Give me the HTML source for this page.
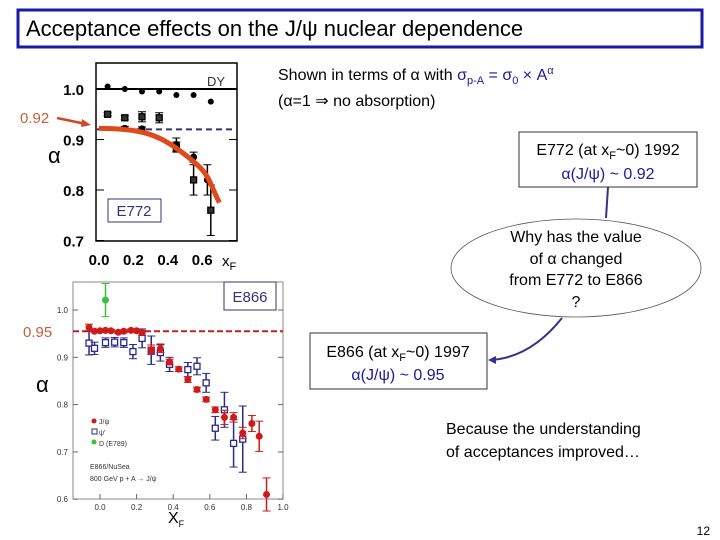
<!DOCTYPE html>
<html><head><meta charset="utf-8"><style>
body{margin:0;background:#fff;}
svg{display:block;font-family:"Liberation Sans",sans-serif;}
</style></head><body>
<svg id="s" width="720" height="540" xmlns="http://www.w3.org/2000/svg">
<rect x="18" y="10" width="684" height="37" fill="#fff" stroke="#1a1aa8" stroke-width="3"/>
<text x="26" y="36" font-size="22" fill="#000">Acceptance effects on the J/ψ nuclear dependence</text>

<text x="278" y="80" font-size="16">Shown in terms of α with <tspan fill="#1a1a9a">σ<tspan font-size="11" dy="4">p-A</tspan><tspan dy="-4"> = σ</tspan><tspan font-size="11" dy="4">0</tspan><tspan dy="-4"> × A</tspan><tspan font-size="11" dy="-6">α</tspan></tspan></text>
<text x="278" y="106" font-size="16">(α=1 ⇒ no absorption)</text>

<rect x="519" y="132" width="178" height="55" fill="#fff" stroke="#333"/>
<text x="608" y="155" font-size="16" text-anchor="middle">E772 (at x<tspan font-size="11" dy="4">F</tspan><tspan dy="-4">~0) 1992</tspan></text>
<text x="608" y="179" font-size="16" text-anchor="middle" fill="#1a1a9a">α(J/ψ) ~ 0.92</text>
<line x1="608" y1="187" x2="606" y2="218" stroke="#33338a" stroke-width="2"/>
<ellipse cx="576" cy="268" rx="125" ry="49" fill="#fff" stroke="#555" stroke-width="0.8"/>
<g font-size="16" text-anchor="middle">
<text x="576" y="242">Why has the value</text><text x="576" y="264">of α changed</text><text x="576" y="285">from E772 to E866</text><text x="576" y="307">?</text></g>
<path d="M562,318 Q530,358 490,360" fill="none" stroke="#33338a" stroke-width="2"/>
<path d="M488,360 l8,-4 l0,8 z" fill="#33338a"/>
<rect x="310" y="333" width="177" height="56" fill="#fff" stroke="#333"/>
<text x="398" y="357" font-size="16" text-anchor="middle">E866 (at x<tspan font-size="11" dy="4">F</tspan><tspan dy="-4">~0) 1997</tspan></text>
<text x="398" y="380" font-size="16" text-anchor="middle" fill="#1a1a9a">α(J/ψ) ~ 0.95</text>
<text x="446" y="434" font-size="16">Because the understanding</text>
<text x="446" y="457" font-size="16">of acceptances improved…</text>
<text x="710" y="535" font-size="12" text-anchor="end">12</text>
<g id="top"></g><g id="bot"></g>
</svg>
<script>
// Top chart data (E772)
const dyX=[0.05,0.15,0.25,0.35,0.45,0.55,0.65];
const dyY=[1.005,1.0,0.995,0.995,0.988,0.988,0.975];
const jpX=[0.05,0.15,0.25,0.35,0.45,0.55,0.65];
const jpY=[0.95,0.943,0.945,0.943,0.885,0.82,0.76];
const jpE=[0.003,0.004,0.01,0.01,0.01,0.03,0.05];
const j2X=[0.15,0.25,0.45,0.55,0.63];
const j2Y=[0.922,0.921,0.89,0.865,0.82];
const j2E=[0.004,0.004,0.013,0.01,0.03];
const topTicksY=[0.7,0.8,0.9,1.0];
const topTicksX=[0.0,0.2,0.4,0.6];
// Bottom chart data (E866)
const rX=[-0.06,-0.03,0.0,0.03,0.06,0.1,0.13,0.17,0.2,0.23,0.28,0.33,0.38,0.43,0.48,0.53,0.58,0.63,0.68,0.73,0.78,0.83,0.87,0.91];
const rY=[0.963,0.955,0.956,0.957,0.956,0.953,0.955,0.957,0.956,0.952,0.916,0.918,0.89,0.875,0.853,0.832,0.811,0.789,0.773,0.773,0.74,0.76,0.733,0.61];
const rE=[0.007,0.003,0.003,0.003,0.003,0.003,0.003,0.003,0.003,0.005,0.01,0.008,0.006,0.005,0.006,0.005,0.005,0.006,0.015,0.01,0.012,0.017,0.032,0.035];
const bX=[-0.06,-0.03,0.03,0.08,0.13,0.18,0.23,0.28,0.33,0.38,0.48,0.53,0.58,0.63,0.68,0.73,0.78];
const bY=[0.93,0.919,0.931,0.932,0.931,0.912,0.94,0.915,0.91,0.885,0.874,0.881,0.846,0.75,0.789,0.718,0.727];
const bE=[0.025,0.013,0.01,0.01,0.01,0.015,0.02,0.03,0.018,0.015,0.015,0.018,0.02,0.025,0.037,0.05,0.07];
const gX=[0.03],gY=[1.021],gE=[0.035];
const botTicksY=[0.6,0.7,0.8,0.9,1.0];
const botTicksX=[0.0,0.2,0.4,0.6,0.8,1.0];
const NS='http://www.w3.org/2000/svg';
function mk(p,t,a){const e=document.createElementNS(NS,t);for(const k in a)e.setAttribute(k,a[k]);p.appendChild(e);return e;}
// TOP
const T=document.getElementById('top');
const tx=v=>99+v*172, ty=v=>89+(1.0-v)*505;
let fr=mk(T,'rect',{x:96,y:63,width:141,height:178,fill:'#fff',stroke:'#000','stroke-width':1.5});


topTicksY.forEach(v=>{let t=mk(T,'text',{x:84,y:ty(v)+6,'font-size':15,'font-weight':'bold','text-anchor':'end'});t.textContent=v.toFixed(1);


mk(T,'line',{x1:96,x2:104,y1:ty(v),y2:ty(v),stroke:'#000'});mk(T,'line',{x1:229,x2:237,y1:ty(v),y2:ty(v),stroke:'#000'});});
topTicksX.forEach(v=>{let t=mk(T,'text',{x:tx(v),y:265,'font-size':15,'font-weight':'bold','text-anchor':'middle'});t.textContent=v.toFixed(1);

});
mk(T,'line',{x1:96,x2:237,y1:ty(1.0),y2:ty(1.0),stroke:'#000','stroke-width':2});
mk(T,'line',{x1:96,x2:237,y1:ty(0.92),y2:ty(0.92),stroke:'#33337a','stroke-width':2,'stroke-dasharray':'6,4'});
dyX.forEach((x,i)=>{let c=mk(T,'circle',{cx:tx(x),cy:ty(dyY[i]),r:3,fill:'#000'});

});
function eb(G,X,Y,E,fx,fy,col,name,shape,fill){X.forEach((x,i)=>{mk(G,'line',{x1:fx(x),x2:fx(x),y1:fy(Y[i]+E[i]),y2:fy(Y[i]-E[i]),stroke:col,'stroke-width':1.5});
mk(G,'line',{x1:fx(x)-4,x2:fx(x)+4,y1:fy(Y[i]+E[i]),y2:fy(Y[i]+E[i]),stroke:col});
mk(G,'line',{x1:fx(x)-4,x2:fx(x)+4,y1:fy(Y[i]-E[i]),y2:fy(Y[i]-E[i]),stroke:col});
let m=shape==='sq'?mk(G,'rect',{x:fx(x)-3,y:fy(Y[i])-3,width:6,height:6,fill:fill||'#fff',stroke:col,'stroke-width':1.3}):mk(G,'circle',{cx:fx(x),cy:fy(Y[i]),r:3.5,fill:col});

});}
eb(T,jpX,jpY,jpE,tx,ty,'#000','e772-jpsi-point','sq','#333');
eb(T,j2X,j2Y,j2E,tx,ty,'#000','e772-jpsi-point','dot');
let cp=mk(T,'path',{d:`M${tx(0.0)},${ty(0.922)} C${tx(0.25)},${ty(0.922)} ${tx(0.35)},${ty(0.91)} ${tx(0.5)},${ty(0.87)} S${tx(0.62)},${ty(0.83)} ${tx(0.7)},${ty(0.775)}`,fill:'none',stroke:'#e04a1a','stroke-width':5});


let lb=mk(T,'rect',{x:108,y:199,width:53,height:23,fill:'#fff',stroke:'#33337a'});


let l=mk(T,'text',{x:134,y:216,'font-size':15,'text-anchor':'middle',fill:'#33337a'});l.textContent='E772';
l=mk(T,'text',{x:207,y:86,'font-size':13,fill:'#333'});l.textContent='DY';
l=mk(T,'text',{x:48,y:163,'font-size':22,fill:'#000'});l.textContent='α';

l=mk(T,'text',{x:222,y:266,'font-size':15});l.innerHTML='x<tspan font-size="11" dy="4">F</tspan>';
l=mk(T,'text',{x:20,y:123,'font-size':15,fill:'#c0603a'});l.textContent='0.92';
mk(T,'line',{x1:57,y1:118,x2:86,y2:124,stroke:'#d04a20','stroke-width':2.5});
mk(T,'path',{d:'M91,125 l-9,-6 l-1,8 z',fill:'#d04a20'});
// BOTTOM
const B=document.getElementById('bot');
const bx=v=>100+v*183, by=v=>310+(1.0-v)*473;
fr=mk(B,'rect',{x:73,y:282,width:210,height:217,fill:'#fff',stroke:'#888','stroke-width':1});


botTicksY.forEach(v=>{let t=mk(B,'text',{x:68,y:by(v)+3,'font-size':8,'text-anchor':'end',fill:'#333'});t.textContent=v.toFixed(1);


mk(B,'line',{x1:73,x2:78,y1:by(v),y2:by(v),stroke:'#666'});mk(B,'line',{x1:278,x2:283,y1:by(v),y2:by(v),stroke:'#666'});});
botTicksX.forEach(v=>{let t=mk(B,'text',{x:bx(v),y:510,'font-size':8,'text-anchor':'middle',fill:'#333'});t.textContent=v.toFixed(1);


mk(B,'line',{x1:bx(v),x2:bx(v),y1:499,y2:494,stroke:'#666'});});
mk(B,'line',{x1:73,x2:283,y1:by(0.955),y2:by(0.955),stroke:'#c02020','stroke-width':2,'stroke-dasharray':'6,3'});
eb(B,bX,bY,bE,bx,by,'#2a2a8a','psi-prime-point','sq');
eb(B,rX,rY,rE,bx,by,'#d01a1a','jpsi-point','dot');
eb(B,gX,gY,gE,bx,by,'#3ac03a','d-meson-point','dot');
lb=mk(B,'rect',{x:224,y:282,width:52,height:28,fill:'#fff',stroke:'#33337a'});


l=mk(B,'text',{x:250,y:302,'font-size':15,'text-anchor':'middle',fill:'#33337a'});l.textContent='E866';
l=mk(B,'text',{x:36,y:392,'font-size':22});l.textContent='α';
l=mk(B,'text',{x:168,y:523,'font-size':16});l.innerHTML='X<tspan font-size="9" dy="4">F</tspan>';
l=mk(B,'text',{x:23,y:337,'font-size':15,fill:'#c0603a'});l.textContent='0.95';
mk(B,'circle',{cx:94,cy:421,r:2.5,fill:'#d01a1a'});
mk(B,'rect',{x:92,y:429,width:5,height:5,fill:'#fff',stroke:'#2a2a8a'});
mk(B,'circle',{cx:94,cy:442,r:2.5,fill:'#3ac03a'});
[['J/ψ',424],['ψ\'',435],['D (E789)',446],['E866/NuSea',469],['800 GeV p + A → J/ψ',481]].forEach((a,i)=>{let t=mk(B,'text',{x:i<3?99:90,y:a[1],'font-size':7,fill:'#333'});t.textContent=a[0];

});
</script>
</body></html>
